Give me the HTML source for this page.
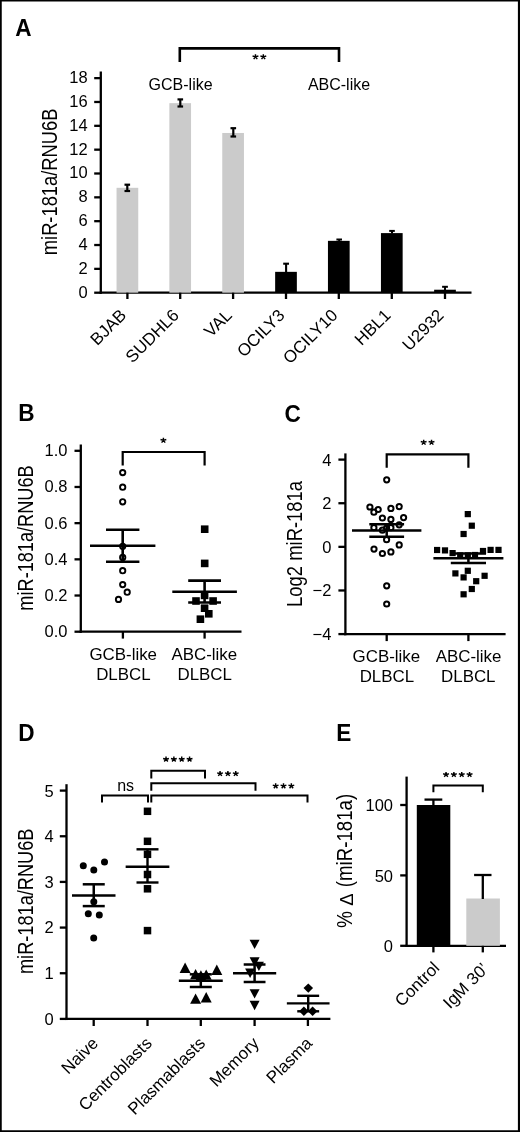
<!DOCTYPE html>
<html><head><meta charset="utf-8"><title>Figure</title>
<style>
html,body{margin:0;padding:0;background:#fff;}
body{width:520px;height:1132px;overflow:hidden;font-family:"Liberation Sans",sans-serif;}
svg{display:block;will-change:transform;}
svg text{font-family:"Liberation Sans",sans-serif;fill:#000;}
</style></head><body>
<svg width="520" height="1132" viewBox="0 0 520 1132">
<rect x="0" y="0" width="520" height="1132" fill="#fff"/>
<path d="M0 0H520V1132H0ZM1.75 1.45V1130.15H517.9V1.45Z" fill="#000" fill-rule="evenodd"/>
<text transform="translate(15.20 35.80) scale(0.93 1)" font-weight="bold" font-size="24.3">A</text>
<text transform="translate(18.30 421.30) scale(0.93 1)" font-weight="bold" font-size="24.3">B</text>
<text transform="translate(284.40 422.20) scale(0.93 1)" font-weight="bold" font-size="24.3">C</text>
<text transform="translate(18.20 741.00) scale(0.93 1)" font-weight="bold" font-size="24.3">D</text>
<text transform="translate(336.20 741.40) scale(0.93 1)" font-weight="bold" font-size="24.3">E</text>
<line x1="100.80" y1="71.50" x2="100.80" y2="293.85" stroke="#000" stroke-width="2.3"/>
<line x1="99.65" y1="292.70" x2="471.50" y2="292.70" stroke="#000" stroke-width="2.3"/>
<line x1="94.20" y1="292.70" x2="100.80" y2="292.70" stroke="#000" stroke-width="2.3"/>
<text x="87.60" y="297.61" text-anchor="end" font-size="16.5">0</text>
<line x1="94.20" y1="268.86" x2="100.80" y2="268.86" stroke="#000" stroke-width="2.3"/>
<text x="87.60" y="273.77" text-anchor="end" font-size="16.5">2</text>
<line x1="94.20" y1="245.02" x2="100.80" y2="245.02" stroke="#000" stroke-width="2.3"/>
<text x="87.60" y="249.93" text-anchor="end" font-size="16.5">4</text>
<line x1="94.20" y1="221.18" x2="100.80" y2="221.18" stroke="#000" stroke-width="2.3"/>
<text x="87.60" y="226.09" text-anchor="end" font-size="16.5">6</text>
<line x1="94.20" y1="197.34" x2="100.80" y2="197.34" stroke="#000" stroke-width="2.3"/>
<text x="87.60" y="202.25" text-anchor="end" font-size="16.5">8</text>
<line x1="94.20" y1="173.50" x2="100.80" y2="173.50" stroke="#000" stroke-width="2.3"/>
<text x="87.60" y="178.41" text-anchor="end" font-size="16.5">10</text>
<line x1="94.20" y1="149.66" x2="100.80" y2="149.66" stroke="#000" stroke-width="2.3"/>
<text x="87.60" y="154.57" text-anchor="end" font-size="16.5">12</text>
<line x1="94.20" y1="125.82" x2="100.80" y2="125.82" stroke="#000" stroke-width="2.3"/>
<text x="87.60" y="130.73" text-anchor="end" font-size="16.5">14</text>
<line x1="94.20" y1="101.98" x2="100.80" y2="101.98" stroke="#000" stroke-width="2.3"/>
<text x="87.60" y="106.89" text-anchor="end" font-size="16.5">16</text>
<line x1="94.20" y1="78.14" x2="100.80" y2="78.14" stroke="#000" stroke-width="2.3"/>
<text x="87.60" y="83.05" text-anchor="end" font-size="16.5">18</text>
<text transform="translate(57.40 181.90) rotate(-90)" text-anchor="middle" font-size="21.4" textLength="146.60" lengthAdjust="spacingAndGlyphs">miR-181a/RNU6B</text>
<rect x="116.55" y="187.80" width="21.70" height="104.90" fill="#cbcbcb"/>
<line x1="127.40" y1="292.70" x2="127.40" y2="299.00" stroke="#000" stroke-width="2.3"/>
<rect x="169.35" y="103.17" width="21.70" height="189.53" fill="#cbcbcb"/>
<line x1="180.20" y1="292.70" x2="180.20" y2="299.00" stroke="#000" stroke-width="2.3"/>
<rect x="222.25" y="132.97" width="21.70" height="159.73" fill="#cbcbcb"/>
<line x1="233.10" y1="292.70" x2="233.10" y2="299.00" stroke="#000" stroke-width="2.3"/>
<rect x="275.15" y="271.84" width="21.70" height="20.86" fill="#000"/>
<line x1="286.00" y1="292.70" x2="286.00" y2="299.00" stroke="#000" stroke-width="2.3"/>
<rect x="327.95" y="240.85" width="21.70" height="51.85" fill="#000"/>
<line x1="338.80" y1="292.70" x2="338.80" y2="299.00" stroke="#000" stroke-width="2.3"/>
<rect x="380.95" y="233.10" width="21.70" height="59.60" fill="#000"/>
<line x1="391.80" y1="292.70" x2="391.80" y2="299.00" stroke="#000" stroke-width="2.3"/>
<rect x="434.15" y="289.72" width="21.70" height="2.98" fill="#000"/>
<line x1="445.00" y1="292.70" x2="445.00" y2="299.00" stroke="#000" stroke-width="2.3"/>
<line x1="127.30" y1="184.70" x2="127.30" y2="191.00" stroke="#000" stroke-width="2.2"/>
<line x1="124.50" y1="184.70" x2="130.10" y2="184.70" stroke="#000" stroke-width="2.2"/>
<line x1="124.50" y1="191.00" x2="130.10" y2="191.00" stroke="#000" stroke-width="2.2"/>
<line x1="180.30" y1="99.40" x2="180.30" y2="106.50" stroke="#000" stroke-width="2.2"/>
<line x1="177.50" y1="99.40" x2="183.10" y2="99.40" stroke="#000" stroke-width="2.2"/>
<line x1="177.50" y1="106.50" x2="183.10" y2="106.50" stroke="#000" stroke-width="2.2"/>
<line x1="233.30" y1="128.20" x2="233.30" y2="136.50" stroke="#000" stroke-width="2.2"/>
<line x1="230.50" y1="128.20" x2="236.10" y2="128.20" stroke="#000" stroke-width="2.2"/>
<line x1="230.50" y1="136.50" x2="236.10" y2="136.50" stroke="#000" stroke-width="2.2"/>
<line x1="286.10" y1="263.70" x2="286.10" y2="272.00" stroke="#000" stroke-width="2.1"/>
<line x1="283.20" y1="263.70" x2="289.00" y2="263.70" stroke="#000" stroke-width="2.1"/>
<line x1="339.20" y1="239.50" x2="339.20" y2="241.00" stroke="#000" stroke-width="2.0"/>
<line x1="336.40" y1="239.50" x2="342.00" y2="239.50" stroke="#000" stroke-width="2.0"/>
<line x1="392.00" y1="230.90" x2="392.00" y2="233.50" stroke="#000" stroke-width="2.0"/>
<line x1="389.20" y1="230.90" x2="394.80" y2="230.90" stroke="#000" stroke-width="2.0"/>
<line x1="445.00" y1="286.80" x2="445.00" y2="290.00" stroke="#000" stroke-width="2.0"/>
<line x1="442.10" y1="286.80" x2="447.90" y2="286.80" stroke="#000" stroke-width="2.0"/>
<text transform="translate(127.20 316.20) rotate(-45)" text-anchor="end" font-size="17">BJAB</text>
<text transform="translate(180.00 316.20) rotate(-45)" text-anchor="end" font-size="17">SUDHL6</text>
<text transform="translate(232.90 316.20) rotate(-45)" text-anchor="end" font-size="17">VAL</text>
<text transform="translate(285.80 316.20) rotate(-45)" text-anchor="end" font-size="17">OCILY3</text>
<text transform="translate(338.60 316.20) rotate(-45)" text-anchor="end" font-size="17">OCILY10</text>
<text transform="translate(391.60 316.20) rotate(-45)" text-anchor="end" font-size="17">HBL1</text>
<text transform="translate(444.80 316.20) rotate(-45)" text-anchor="end" font-size="17">U2932</text>
<polyline points="179.80,62.00 179.80,48.40 339.00,48.40 339.00,62.00" fill="none" stroke="#000" stroke-width="2.6" stroke-linejoin="miter"/>
<path d="M255.47 56.90L255.47 54.18M255.47 56.90L258.38 56.06M255.47 56.90L257.27 59.10M255.47 56.90L253.68 59.10M255.47 56.90L252.57 56.06M263.32 56.90L263.32 54.18M263.32 56.90L266.23 56.06M263.32 56.90L265.12 59.10M263.32 56.90L261.53 59.10M263.32 56.90L260.42 56.06" stroke="#000" stroke-width="1.45" fill="none"/>
<text x="180.60" y="90.00" text-anchor="middle" font-size="16.0">GCB-like</text>
<text x="339.00" y="90.00" text-anchor="middle" font-size="16.0">ABC-like</text>
<line x1="80.80" y1="444.50" x2="80.80" y2="632.85" stroke="#000" stroke-width="2.3"/>
<line x1="79.65" y1="631.70" x2="241.50" y2="631.70" stroke="#000" stroke-width="2.3"/>
<line x1="74.50" y1="631.70" x2="80.80" y2="631.70" stroke="#000" stroke-width="2.3"/>
<text x="67.50" y="637.11" text-anchor="end" font-size="16.5">0.0</text>
<line x1="74.50" y1="595.52" x2="80.80" y2="595.52" stroke="#000" stroke-width="2.3"/>
<text x="67.50" y="600.93" text-anchor="end" font-size="16.5">0.2</text>
<line x1="74.50" y1="559.34" x2="80.80" y2="559.34" stroke="#000" stroke-width="2.3"/>
<text x="67.50" y="564.75" text-anchor="end" font-size="16.5">0.4</text>
<line x1="74.50" y1="523.16" x2="80.80" y2="523.16" stroke="#000" stroke-width="2.3"/>
<text x="67.50" y="528.57" text-anchor="end" font-size="16.5">0.6</text>
<line x1="74.50" y1="486.98" x2="80.80" y2="486.98" stroke="#000" stroke-width="2.3"/>
<text x="67.50" y="492.39" text-anchor="end" font-size="16.5">0.8</text>
<line x1="74.50" y1="450.80" x2="80.80" y2="450.80" stroke="#000" stroke-width="2.3"/>
<text x="67.50" y="456.21" text-anchor="end" font-size="16.5">1.0</text>
<text transform="translate(32.90 538.00) rotate(-90)" text-anchor="middle" font-size="21.4" textLength="145.30" lengthAdjust="spacingAndGlyphs">miR-181a/RNU6B</text>
<line x1="122.90" y1="631.70" x2="122.90" y2="638.60" stroke="#000" stroke-width="2.3"/>
<line x1="204.60" y1="631.70" x2="204.60" y2="638.60" stroke="#000" stroke-width="2.3"/>
<circle cx="122.70" cy="472.60" r="2.65" fill="none" stroke="#000" stroke-width="1.9"/>
<circle cx="122.70" cy="487.20" r="2.65" fill="none" stroke="#000" stroke-width="1.9"/>
<circle cx="122.70" cy="501.80" r="2.65" fill="none" stroke="#000" stroke-width="1.9"/>
<circle cx="122.70" cy="546.30" r="2.65" fill="none" stroke="#000" stroke-width="1.9"/>
<circle cx="122.70" cy="557.40" r="2.65" fill="none" stroke="#000" stroke-width="1.9"/>
<circle cx="122.70" cy="570.70" r="2.65" fill="none" stroke="#000" stroke-width="1.9"/>
<circle cx="122.70" cy="584.60" r="2.65" fill="none" stroke="#000" stroke-width="1.9"/>
<circle cx="127.20" cy="592.20" r="2.65" fill="none" stroke="#000" stroke-width="1.9"/>
<circle cx="118.50" cy="599.40" r="2.65" fill="none" stroke="#000" stroke-width="1.9"/>
<rect x="200.90" y="525.40" width="7.60" height="7.60" fill="#000"/>
<rect x="200.90" y="559.60" width="7.60" height="7.60" fill="#000"/>
<rect x="200.80" y="591.60" width="7.60" height="7.60" fill="#000"/>
<rect x="192.20" y="597.20" width="7.60" height="7.60" fill="#000"/>
<rect x="209.30" y="597.20" width="7.60" height="7.60" fill="#000"/>
<rect x="200.80" y="604.40" width="7.60" height="7.60" fill="#000"/>
<rect x="205.00" y="610.00" width="7.60" height="7.60" fill="#000"/>
<rect x="196.60" y="615.40" width="7.60" height="7.60" fill="#000"/>
<line x1="90.00" y1="545.70" x2="155.40" y2="545.70" stroke="#000" stroke-width="2.6"/>
<line x1="106.00" y1="529.80" x2="139.40" y2="529.80" stroke="#000" stroke-width="2.6"/>
<line x1="106.00" y1="561.80" x2="139.40" y2="561.80" stroke="#000" stroke-width="2.6"/>
<line x1="122.70" y1="529.80" x2="122.70" y2="561.80" stroke="#000" stroke-width="2.6"/>
<line x1="172.30" y1="591.80" x2="236.90" y2="591.80" stroke="#000" stroke-width="2.6"/>
<line x1="188.20" y1="580.60" x2="221.00" y2="580.60" stroke="#000" stroke-width="2.6"/>
<line x1="188.20" y1="602.50" x2="221.00" y2="602.50" stroke="#000" stroke-width="2.6"/>
<line x1="204.60" y1="580.60" x2="204.60" y2="602.50" stroke="#000" stroke-width="2.6"/>
<polyline points="122.70,465.50 122.70,452.00 204.60,452.00 204.60,465.50" fill="none" stroke="#000" stroke-width="2.2" stroke-linejoin="miter"/>
<path d="M163.40 440.40L163.40 437.68M163.40 440.40L166.30 439.56M163.40 440.40L165.19 442.60M163.40 440.40L161.61 442.60M163.40 440.40L160.50 439.56" stroke="#000" stroke-width="1.45" fill="none"/>
<text x="123.20" y="660.10" text-anchor="middle" font-size="16.9">GCB-like</text>
<text x="123.40" y="680.30" text-anchor="middle" font-size="16.9">DLBCL</text>
<text x="204.30" y="660.10" text-anchor="middle" font-size="16.9">ABC-like</text>
<text x="204.70" y="680.30" text-anchor="middle" font-size="16.9">DLBCL</text>
<line x1="345.40" y1="453.40" x2="345.40" y2="635.24" stroke="#000" stroke-width="2.3"/>
<line x1="344.25" y1="634.09" x2="505.60" y2="634.09" stroke="#000" stroke-width="2.3"/>
<line x1="338.40" y1="459.61" x2="345.40" y2="459.61" stroke="#000" stroke-width="2.3"/>
<text x="331.40" y="465.52" text-anchor="end" font-size="16.5">4</text>
<line x1="338.40" y1="503.23" x2="345.40" y2="503.23" stroke="#000" stroke-width="2.3"/>
<text x="331.40" y="509.14" text-anchor="end" font-size="16.5">2</text>
<line x1="338.40" y1="546.85" x2="345.40" y2="546.85" stroke="#000" stroke-width="2.3"/>
<text x="331.40" y="552.76" text-anchor="end" font-size="16.5">0</text>
<line x1="338.40" y1="590.47" x2="345.40" y2="590.47" stroke="#000" stroke-width="2.3"/>
<text x="331.40" y="596.38" text-anchor="end" font-size="16.5">−2</text>
<line x1="338.40" y1="634.09" x2="345.40" y2="634.09" stroke="#000" stroke-width="2.3"/>
<text x="331.40" y="640.00" text-anchor="end" font-size="16.5">−4</text>
<text transform="translate(301.70 543.90) rotate(-90)" text-anchor="middle" font-size="21.4" textLength="126.00" lengthAdjust="spacingAndGlyphs">Log2 miR-181a</text>
<line x1="386.70" y1="634.09" x2="386.70" y2="641.09" stroke="#000" stroke-width="2.3"/>
<line x1="468.40" y1="634.09" x2="468.40" y2="641.09" stroke="#000" stroke-width="2.3"/>
<circle cx="386.70" cy="479.80" r="2.6" fill="none" stroke="#000" stroke-width="2.0"/>
<circle cx="369.90" cy="507.00" r="2.6" fill="none" stroke="#000" stroke-width="2.0"/>
<circle cx="378.20" cy="509.50" r="2.6" fill="none" stroke="#000" stroke-width="2.0"/>
<circle cx="373.90" cy="512.20" r="2.6" fill="none" stroke="#000" stroke-width="2.0"/>
<circle cx="390.90" cy="508.40" r="2.6" fill="none" stroke="#000" stroke-width="2.0"/>
<circle cx="399.20" cy="506.60" r="2.6" fill="none" stroke="#000" stroke-width="2.0"/>
<circle cx="382.40" cy="518.00" r="2.6" fill="none" stroke="#000" stroke-width="2.0"/>
<circle cx="390.90" cy="519.40" r="2.6" fill="none" stroke="#000" stroke-width="2.0"/>
<circle cx="403.60" cy="517.60" r="2.6" fill="none" stroke="#000" stroke-width="2.0"/>
<circle cx="399.20" cy="524.80" r="2.6" fill="none" stroke="#000" stroke-width="2.0"/>
<circle cx="373.90" cy="527.70" r="2.6" fill="none" stroke="#000" stroke-width="2.0"/>
<circle cx="390.90" cy="527.70" r="2.6" fill="none" stroke="#000" stroke-width="2.0"/>
<circle cx="382.40" cy="530.20" r="2.6" fill="none" stroke="#000" stroke-width="2.0"/>
<circle cx="386.60" cy="528.00" r="2.6" fill="none" stroke="#000" stroke-width="2.0"/>
<circle cx="386.60" cy="539.70" r="2.6" fill="none" stroke="#000" stroke-width="2.0"/>
<circle cx="399.20" cy="544.90" r="2.6" fill="none" stroke="#000" stroke-width="2.0"/>
<circle cx="374.00" cy="549.10" r="2.6" fill="none" stroke="#000" stroke-width="2.0"/>
<circle cx="382.40" cy="553.50" r="2.6" fill="none" stroke="#000" stroke-width="2.0"/>
<circle cx="390.90" cy="551.90" r="2.6" fill="none" stroke="#000" stroke-width="2.0"/>
<circle cx="386.70" cy="585.80" r="2.6" fill="none" stroke="#000" stroke-width="2.0"/>
<circle cx="386.70" cy="604.00" r="2.6" fill="none" stroke="#000" stroke-width="2.0"/>
<rect x="464.70" y="511.00" width="6.20" height="6.20" fill="#000"/>
<rect x="468.70" y="522.60" width="6.20" height="6.20" fill="#000"/>
<rect x="460.50" y="530.90" width="6.20" height="6.20" fill="#000"/>
<rect x="434.00" y="546.90" width="6.20" height="6.20" fill="#000"/>
<rect x="441.90" y="547.30" width="6.20" height="6.20" fill="#000"/>
<rect x="449.50" y="550.00" width="6.20" height="6.20" fill="#000"/>
<rect x="457.10" y="552.30" width="6.20" height="6.20" fill="#000"/>
<rect x="464.70" y="552.30" width="6.20" height="6.20" fill="#000"/>
<rect x="471.90" y="551.90" width="6.20" height="6.20" fill="#000"/>
<rect x="479.90" y="547.90" width="6.20" height="6.20" fill="#000"/>
<rect x="487.50" y="546.80" width="6.20" height="6.20" fill="#000"/>
<rect x="495.40" y="546.80" width="6.20" height="6.20" fill="#000"/>
<rect x="452.30" y="570.30" width="6.20" height="6.20" fill="#000"/>
<rect x="464.70" y="567.70" width="6.20" height="6.20" fill="#000"/>
<rect x="460.50" y="574.30" width="6.20" height="6.20" fill="#000"/>
<rect x="481.50" y="572.70" width="6.20" height="6.20" fill="#000"/>
<rect x="473.10" y="578.10" width="6.20" height="6.20" fill="#000"/>
<rect x="468.70" y="585.90" width="6.20" height="6.20" fill="#000"/>
<rect x="460.50" y="591.20" width="6.20" height="6.20" fill="#000"/>
<line x1="352.00" y1="530.60" x2="421.40" y2="530.60" stroke="#000" stroke-width="2.5"/>
<line x1="369.30" y1="524.20" x2="404.10" y2="524.20" stroke="#000" stroke-width="2.5"/>
<line x1="369.30" y1="536.80" x2="404.10" y2="536.80" stroke="#000" stroke-width="2.5"/>
<line x1="386.70" y1="524.20" x2="386.70" y2="536.80" stroke="#000" stroke-width="2.5"/>
<line x1="433.40" y1="558.20" x2="503.40" y2="558.20" stroke="#000" stroke-width="2.5"/>
<line x1="450.80" y1="553.40" x2="486.00" y2="553.40" stroke="#000" stroke-width="2.5"/>
<line x1="450.80" y1="562.90" x2="486.00" y2="562.90" stroke="#000" stroke-width="2.5"/>
<line x1="468.40" y1="553.40" x2="468.40" y2="562.90" stroke="#000" stroke-width="2.5"/>
<polyline points="386.70,467.70 386.70,454.40 468.40,454.40 468.40,467.70" fill="none" stroke="#000" stroke-width="2.2" stroke-linejoin="miter"/>
<path d="M423.68 442.40L423.68 439.68M423.68 442.40L426.58 441.56M423.68 442.40L425.47 444.60M423.68 442.40L421.88 444.60M423.68 442.40L420.77 441.56M431.53 442.40L431.53 439.68M431.53 442.40L434.43 441.56M431.53 442.40L433.32 444.60M431.53 442.40L429.73 444.60M431.53 442.40L428.62 441.56" stroke="#000" stroke-width="1.45" fill="none"/>
<text x="386.40" y="661.90" text-anchor="middle" font-size="16.9">GCB-like</text>
<text x="386.90" y="682.40" text-anchor="middle" font-size="16.9">DLBCL</text>
<text x="468.60" y="661.90" text-anchor="middle" font-size="16.9">ABC-like</text>
<text x="468.30" y="682.40" text-anchor="middle" font-size="16.9">DLBCL</text>
<line x1="66.50" y1="784.20" x2="66.50" y2="1020.05" stroke="#000" stroke-width="2.3"/>
<line x1="65.35" y1="1018.90" x2="330.40" y2="1018.90" stroke="#000" stroke-width="2.3"/>
<line x1="59.80" y1="1018.90" x2="66.50" y2="1018.90" stroke="#000" stroke-width="2.3"/>
<text x="53.60" y="1024.81" text-anchor="end" font-size="16.5">0</text>
<line x1="59.80" y1="973.24" x2="66.50" y2="973.24" stroke="#000" stroke-width="2.3"/>
<text x="53.60" y="979.15" text-anchor="end" font-size="16.5">1</text>
<line x1="59.80" y1="927.58" x2="66.50" y2="927.58" stroke="#000" stroke-width="2.3"/>
<text x="53.60" y="933.49" text-anchor="end" font-size="16.5">2</text>
<line x1="59.80" y1="881.92" x2="66.50" y2="881.92" stroke="#000" stroke-width="2.3"/>
<text x="53.60" y="887.83" text-anchor="end" font-size="16.5">3</text>
<line x1="59.80" y1="836.26" x2="66.50" y2="836.26" stroke="#000" stroke-width="2.3"/>
<text x="53.60" y="842.17" text-anchor="end" font-size="16.5">4</text>
<line x1="59.80" y1="790.60" x2="66.50" y2="790.60" stroke="#000" stroke-width="2.3"/>
<text x="53.60" y="796.51" text-anchor="end" font-size="16.5">5</text>
<text transform="translate(33.00 901.30) rotate(-90)" text-anchor="middle" font-size="21.4" textLength="145.50" lengthAdjust="spacingAndGlyphs">miR-181a/RNU6B</text>
<line x1="93.70" y1="1018.90" x2="93.70" y2="1026.00" stroke="#000" stroke-width="2.3"/>
<line x1="147.50" y1="1018.90" x2="147.50" y2="1026.00" stroke="#000" stroke-width="2.3"/>
<line x1="200.80" y1="1018.90" x2="200.80" y2="1026.00" stroke="#000" stroke-width="2.3"/>
<line x1="254.60" y1="1018.90" x2="254.60" y2="1026.00" stroke="#000" stroke-width="2.3"/>
<line x1="307.90" y1="1018.90" x2="307.90" y2="1026.00" stroke="#000" stroke-width="2.3"/>
<circle cx="83.30" cy="865.80" r="3.5" fill="#000"/>
<circle cx="93.80" cy="870.00" r="3.5" fill="#000"/>
<circle cx="104.50" cy="862.00" r="3.5" fill="#000"/>
<circle cx="93.80" cy="901.80" r="3.5" fill="#000"/>
<circle cx="88.30" cy="913.80" r="3.5" fill="#000"/>
<circle cx="99.30" cy="915.00" r="3.5" fill="#000"/>
<circle cx="93.70" cy="938.00" r="3.5" fill="#000"/>
<rect x="143.75" y="807.55" width="7.50" height="7.50" fill="#000"/>
<rect x="143.75" y="837.55" width="7.50" height="7.50" fill="#000"/>
<rect x="143.75" y="850.55" width="7.50" height="7.50" fill="#000"/>
<rect x="143.75" y="870.75" width="7.50" height="7.50" fill="#000"/>
<rect x="143.75" y="885.05" width="7.50" height="7.50" fill="#000"/>
<rect x="143.75" y="926.85" width="7.50" height="7.50" fill="#000"/>
<polygon points="185.10,962.60 179.60,972.90 190.60,972.90" fill="#000"/>
<polygon points="195.60,969.00 190.10,979.30 201.10,979.30" fill="#000"/>
<polygon points="206.20,969.50 200.70,979.80 211.70,979.80" fill="#000"/>
<polygon points="216.80,964.60 211.30,974.90 222.30,974.90" fill="#000"/>
<polygon points="195.60,993.40 190.10,1003.70 201.10,1003.70" fill="#000"/>
<polygon points="206.20,992.10 200.70,1002.40 211.70,1002.40" fill="#000"/>
<polygon points="200.90,970.20 195.40,980.50 206.40,980.50" fill="#000"/>
<polygon points="249.60,939.70 259.60,939.70 254.60,949.10" fill="#000"/>
<polygon points="249.60,957.30 259.60,957.30 254.60,966.70" fill="#000"/>
<polygon points="253.90,961.70 263.90,961.70 258.90,971.10" fill="#000"/>
<polygon points="245.10,968.60 255.10,968.60 250.10,978.00" fill="#000"/>
<polygon points="249.60,989.20 259.60,989.20 254.60,998.60" fill="#000"/>
<polygon points="249.60,1000.80 259.60,1000.80 254.60,1010.20" fill="#000"/>
<polygon points="308.30,983.40 313.10,988.10 308.30,992.80 303.50,988.10" fill="#000"/>
<polygon points="303.90,1006.60 308.70,1011.30 303.90,1016.00 299.10,1011.30" fill="#000"/>
<polygon points="312.60,1006.60 317.40,1011.30 312.60,1016.00 307.80,1011.30" fill="#000"/>
<line x1="72.00" y1="895.40" x2="115.50" y2="895.40" stroke="#000" stroke-width="2.5"/>
<line x1="82.75" y1="884.30" x2="104.75" y2="884.30" stroke="#000" stroke-width="2.5"/>
<line x1="82.75" y1="906.10" x2="104.75" y2="906.10" stroke="#000" stroke-width="2.5"/>
<line x1="93.75" y1="884.30" x2="93.75" y2="906.10" stroke="#000" stroke-width="2.5"/>
<line x1="125.65" y1="866.80" x2="169.35" y2="866.80" stroke="#000" stroke-width="2.4"/>
<line x1="136.50" y1="849.30" x2="158.50" y2="849.30" stroke="#000" stroke-width="2.4"/>
<line x1="136.50" y1="882.50" x2="158.50" y2="882.50" stroke="#000" stroke-width="2.4"/>
<line x1="147.50" y1="849.30" x2="147.50" y2="882.50" stroke="#000" stroke-width="2.4"/>
<line x1="178.85" y1="980.80" x2="222.75" y2="980.80" stroke="#000" stroke-width="2.5"/>
<line x1="189.80" y1="974.30" x2="211.80" y2="974.30" stroke="#000" stroke-width="2.5"/>
<line x1="189.80" y1="987.00" x2="211.80" y2="987.00" stroke="#000" stroke-width="2.5"/>
<line x1="200.80" y1="974.30" x2="200.80" y2="987.00" stroke="#000" stroke-width="2.5"/>
<line x1="233.00" y1="973.20" x2="276.20" y2="973.20" stroke="#000" stroke-width="2.5"/>
<line x1="243.70" y1="964.50" x2="265.50" y2="964.50" stroke="#000" stroke-width="2.5"/>
<line x1="243.70" y1="982.00" x2="265.50" y2="982.00" stroke="#000" stroke-width="2.5"/>
<line x1="254.60" y1="964.50" x2="254.60" y2="982.00" stroke="#000" stroke-width="2.5"/>
<line x1="286.85" y1="1003.40" x2="329.55" y2="1003.40" stroke="#000" stroke-width="2.4"/>
<line x1="297.25" y1="995.80" x2="319.15" y2="995.80" stroke="#000" stroke-width="2.4"/>
<line x1="297.25" y1="1011.30" x2="319.15" y2="1011.30" stroke="#000" stroke-width="2.4"/>
<line x1="308.20" y1="995.80" x2="308.20" y2="1011.30" stroke="#000" stroke-width="2.4"/>
<polyline points="102.00,802.60 102.00,795.50 148.00,795.50 148.00,802.60" fill="none" stroke="#000" stroke-width="2.0" stroke-linejoin="miter"/>
<polyline points="151.30,778.40 151.30,770.80 205.00,770.80 205.00,778.40" fill="none" stroke="#000" stroke-width="2.0" stroke-linejoin="miter"/>
<polyline points="151.30,790.80 151.30,783.20 255.50,783.20 255.50,790.80" fill="none" stroke="#000" stroke-width="2.0" stroke-linejoin="miter"/>
<polyline points="151.30,802.60 151.30,795.50 307.50,795.50 307.50,802.60" fill="none" stroke="#000" stroke-width="2.0" stroke-linejoin="miter"/>
<text x="125.60" y="790.80" text-anchor="middle" font-size="16">ns</text>
<path d="M166.03 759.30L166.03 756.58M166.03 759.30L168.93 758.46M166.03 759.30L167.82 761.50M166.03 759.30L164.23 761.50M166.03 759.30L163.12 758.46M173.88 759.30L173.88 756.58M173.88 759.30L176.78 758.46M173.88 759.30L175.67 761.50M173.88 759.30L172.08 761.50M173.88 759.30L170.97 758.46M181.72 759.30L181.72 756.58M181.72 759.30L184.63 758.46M181.72 759.30L183.52 761.50M181.72 759.30L179.93 761.50M181.72 759.30L178.82 758.46M189.57 759.30L189.57 756.58M189.57 759.30L192.48 758.46M189.57 759.30L191.37 761.50M189.57 759.30L187.78 761.50M189.57 759.30L186.67 758.46" stroke="#000" stroke-width="1.45" fill="none"/>
<path d="M220.05 773.70L220.05 770.98M220.05 773.70L222.95 772.86M220.05 773.70L221.84 775.90M220.05 773.70L218.26 775.90M220.05 773.70L217.15 772.86M227.90 773.70L227.90 770.98M227.90 773.70L230.80 772.86M227.90 773.70L229.69 775.90M227.90 773.70L226.11 775.90M227.90 773.70L225.00 772.86M235.75 773.70L235.75 770.98M235.75 773.70L238.65 772.86M235.75 773.70L237.54 775.90M235.75 773.70L233.96 775.90M235.75 773.70L232.85 772.86" stroke="#000" stroke-width="1.45" fill="none"/>
<path d="M275.65 786.00L275.65 783.28M275.65 786.00L278.55 785.16M275.65 786.00L277.44 788.20M275.65 786.00L273.86 788.20M275.65 786.00L272.75 785.16M283.50 786.00L283.50 783.28M283.50 786.00L286.40 785.16M283.50 786.00L285.29 788.20M283.50 786.00L281.71 788.20M283.50 786.00L280.60 785.16M291.35 786.00L291.35 783.28M291.35 786.00L294.25 785.16M291.35 786.00L293.14 788.20M291.35 786.00L289.56 788.20M291.35 786.00L288.45 785.16" stroke="#000" stroke-width="1.45" fill="none"/>
<text transform="translate(99.10 1044.30) rotate(-45)" text-anchor="end" font-size="17">Naive</text>
<text transform="translate(152.90 1044.30) rotate(-45)" text-anchor="end" font-size="17">Centroblasts</text>
<text transform="translate(206.20 1044.30) rotate(-45)" text-anchor="end" font-size="17">Plasmablasts</text>
<text transform="translate(260.00 1044.30) rotate(-45)" text-anchor="end" font-size="17">Memory</text>
<text transform="translate(313.30 1044.30) rotate(-45)" text-anchor="end" font-size="17">Plasma</text>
<line x1="406.60" y1="776.60" x2="406.60" y2="946.95" stroke="#000" stroke-width="2.3"/>
<line x1="405.45" y1="945.80" x2="506.00" y2="945.80" stroke="#000" stroke-width="2.3"/>
<line x1="400.20" y1="945.80" x2="406.60" y2="945.80" stroke="#000" stroke-width="2.3"/>
<text x="393.00" y="952.01" text-anchor="end" font-size="16.5">0</text>
<line x1="400.20" y1="875.40" x2="406.60" y2="875.40" stroke="#000" stroke-width="2.3"/>
<text x="393.00" y="881.61" text-anchor="end" font-size="16.5">50</text>
<line x1="400.20" y1="805.00" x2="406.60" y2="805.00" stroke="#000" stroke-width="2.3"/>
<text x="393.00" y="811.21" text-anchor="end" font-size="16.5">100</text>
<text transform="translate(352.40 927.90) rotate(-90)" font-size="21.4" textLength="17.00" lengthAdjust="spacingAndGlyphs">%</text>
<text transform="translate(352.60 905.70) rotate(-90)" font-size="19" textLength="12.40" lengthAdjust="spacingAndGlyphs">Δ</text>
<text transform="translate(352.40 887.20) rotate(-90)" font-size="21.4" textLength="93.40" lengthAdjust="spacingAndGlyphs">(miR-181a)</text>
<rect x="416.80" y="805.00" width="33.50" height="140.80" fill="#000"/>
<rect x="466.30" y="898.50" width="33.60" height="47.30" fill="#cbcbcb"/>
<line x1="433.40" y1="945.80" x2="433.40" y2="952.40" stroke="#000" stroke-width="2.3"/>
<line x1="482.80" y1="945.80" x2="482.80" y2="952.40" stroke="#000" stroke-width="2.3"/>
<line x1="433.40" y1="799.60" x2="433.40" y2="805.50" stroke="#000" stroke-width="2.3"/>
<line x1="424.50" y1="799.60" x2="442.30" y2="799.60" stroke="#000" stroke-width="2.3"/>
<line x1="482.80" y1="875.00" x2="482.80" y2="899.00" stroke="#000" stroke-width="2.3"/>
<line x1="474.10" y1="875.00" x2="491.50" y2="875.00" stroke="#000" stroke-width="2.3"/>
<polyline points="433.40,792.20 433.40,785.60 482.80,785.60 482.80,792.20" fill="none" stroke="#000" stroke-width="2.0" stroke-linejoin="miter"/>
<path d="M446.03 774.60L446.03 771.88M446.03 774.60L448.93 773.76M446.03 774.60L447.82 776.80M446.03 774.60L444.23 776.80M446.03 774.60L443.12 773.76M453.88 774.60L453.88 771.88M453.88 774.60L456.78 773.76M453.88 774.60L455.67 776.80M453.88 774.60L452.08 776.80M453.88 774.60L450.97 773.76M461.73 774.60L461.73 771.88M461.73 774.60L464.63 773.76M461.73 774.60L463.52 776.80M461.73 774.60L459.93 776.80M461.73 774.60L458.82 773.76M469.58 774.60L469.58 771.88M469.58 774.60L472.48 773.76M469.58 774.60L471.37 776.80M469.58 774.60L467.78 776.80M469.58 774.60L466.67 773.76" stroke="#000" stroke-width="1.45" fill="none"/>
<text transform="translate(440.50 968.80) rotate(-45)" text-anchor="end" font-size="17">Control</text>
<text transform="translate(489.50 970.00) rotate(-45)" text-anchor="end" font-size="17">IgM 30’</text>
</svg>
</body></html>
